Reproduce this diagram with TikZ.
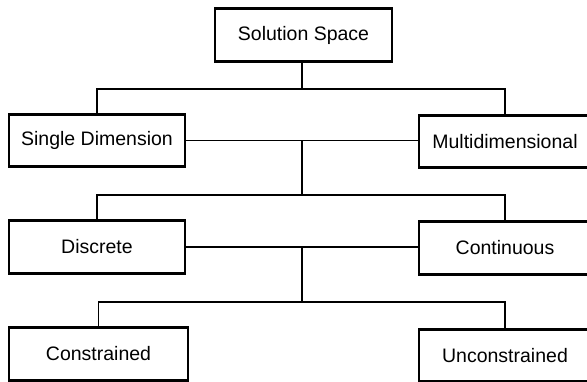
\documentclass[tikz,border=0pt]{standalone}
\usepackage{fontspec}
\setmainfont{Liberation Sans}

\tikzset{
  box/.style={draw, line width=1.2pt, minimum height=51pt, inner sep=0pt,
    font=\fontsize{19.5}{22}\selectfont},
  bar/.style={line width=3pt},
  wire/.style={line width=1.6pt}
}

\begin{document}
\begin{tikzpicture}[x=1pt,y=-1pt]
\useasboundingbox (0,0) rectangle (587,381);
\clip (0,0) rectangle (587,381);

% the boxes, row by row
\node [box, minimum width=177pt] (space) at (303.5,35) {Solution Space};

\node [box, minimum width=176pt] (single) at (97,140.5) {Single Dimension};
\node [box, minimum width=172pt] (multi) at (505,141.5) {Multidimensional};

\node [box, minimum width=176pt] (discrete) at (97,247) {Discrete};
\node [box, minimum width=172pt] (continuous) at (505,248) {Continuous};

\node [box, minimum width=179pt] (constrained) at (98.5,354) {Constrained};
\node [box, minimum width=172pt] (unconstrained) at (505,355.5) {Unconstrained};

% heavy top and bottom edges
\foreach \n in {space,single,multi,discrete,continuous,constrained,unconstrained} {
    \draw [bar] (\n.north west) -- (\n.north east);
    \draw [bar] (\n.south west) -- (\n.south east);
}

% branch points
\coordinate (fork1) at (302,89);
\coordinate (fork2) at (302,195);
\coordinate (fork3) at (302,302);

\draw [wire] (space.south -| fork1) -- (fork1);
\draw [wire] (single.north) |- (fork1) -| (multi.north);

\draw [wire] (single.east) -- (multi.west |- single.east);
\draw [wire] (single.east -| fork2) -- (fork2);
\draw [wire] (discrete.north) |- (fork2) -| (continuous.north);

\draw [wire] (discrete.east) -- (continuous.west |- discrete.east);
\draw [wire] (discrete.east -| fork3) -- (fork3);
\draw [wire] (constrained.north) |- (fork3) -| (unconstrained.north);

\end{tikzpicture}
\end{document}
